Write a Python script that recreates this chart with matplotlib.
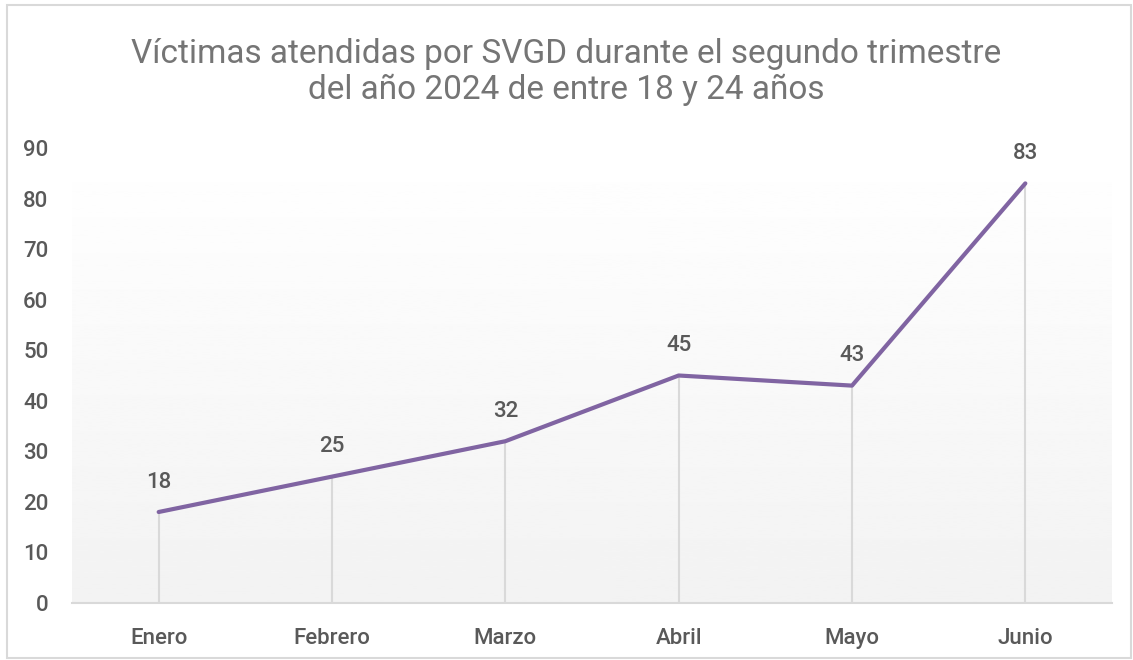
import matplotlib
matplotlib.use('Agg')
import matplotlib.pyplot as plt
import numpy as np
from matplotlib.patches import Rectangle

# datos del grafico
meses = ['Enero', 'Febrero', 'Marzo', 'Abril', 'Mayo', 'Junio']
victimas = [18, 25, 32, 45, 43, 83]
yticks = [0, 10, 20, 30, 40, 50, 60, 70, 80, 90]
titulo = 'Víctimas atendidas por SVGD durante el segundo trimestre\ndel año 2024 de entre 18 y 24 años'

plt.rcParams['font.family'] = ['Roboto', 'DejaVu Sans']

gris_texto = '#595959'
gris_linea = '#d9d9d9'
morado = '#8064a2'

fig = plt.figure(figsize=(11.33, 6.60), dpi=100)
ax = fig.add_axes([72/1133, 1 - 603/660, 1040/1133, 455/660])

x = np.arange(len(meses))

# fondo degradado del area de trazado
grad = np.linspace(1.0, 0.95, 256).reshape(-1, 1)
ax.imshow(grad, extent=[0, 1, 0, 1], transform=ax.transAxes, cmap='gray',
          vmin=0, vmax=1, aspect='auto', zorder=0)

# lineas de caida
ax.vlines(x, 0, victimas, color=gris_linea, lw=1.5, zorder=1)
ax.plot(x, victimas, color=morado, lw=3, solid_capstyle='round', zorder=3)

for xi, v in zip(x, victimas):
    ax.annotate(str(v), (xi, v), xytext=(0, 14), textcoords='offset points',
                ha='center', va='bottom', fontsize=16, color=gris_texto,
                fontweight='medium')

ax.set_xlim(-0.5, len(meses) - 0.5)
ax.set_ylim(0, 90)
ax.set_yticks(yticks)
ax.set_xticks(x)
ax.set_xticklabels(meses)
ax.tick_params(axis='both', length=0, labelsize=16, labelcolor=gris_texto)
ax.tick_params(axis='y', pad=17)
ax.tick_params(axis='x', pad=18)
for lab in ax.get_xticklabels() + ax.get_yticklabels():
    lab.set_fontweight('medium')
for s in ['top', 'right', 'left']:
    ax.spines[s].set_visible(False)
ax.spines['bottom'].set_color(gris_linea)
ax.spines['bottom'].set_linewidth(1.5)
ax.spines['bottom'].set_zorder(2)

fig.text(0.5, 1 - 72/660, titulo, ha='center', va='center', fontsize=24,
         color='#757575', linespacing=1.15)

# borde del grafico
fig.patches.append(Rectangle((7/1133, 2/660), 1124/1133, 653/660,
                             transform=fig.transFigure, fill=False,
                             edgecolor=gris_linea, lw=1.5))

fig.savefig('out.png', dpi=100)
